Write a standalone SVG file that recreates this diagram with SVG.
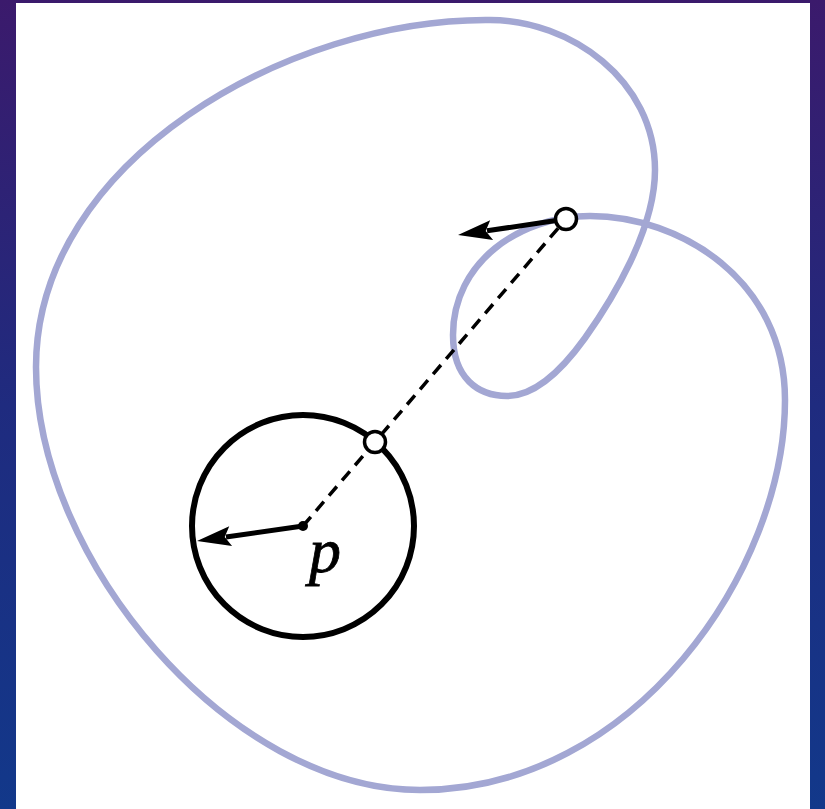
<svg xmlns="http://www.w3.org/2000/svg" width="825" height="809" viewBox="0 0 825 809">
  <defs>
    <linearGradient id="bg" x1="0" y1="0" x2="0" y2="1">
      <stop offset="0" stop-color="#3b1a6c"/>
      <stop offset="0.5" stop-color="#1f2b7f"/>
      <stop offset="1" stop-color="#12388a"/>
    </linearGradient>
    <path id="head" d="M0,0 L-34,-10 L-28,0 L-34,10 Z" fill="#000"/>
  </defs>
  <style>
    .curve { fill: none; stroke: #a3a7d3; stroke-width: 6.5; }
    .circle { fill: none; stroke: #000; stroke-width: 6; }
    .dash { fill: none; stroke: #000; stroke-width: 3.5; stroke-dasharray: 12 8; }
    .arr { fill: none; stroke: #000; stroke-width: 5; }
    .pt { fill: #fff; stroke: #000; stroke-width: 3.5; }
    .lbl { font-family: "Liberation Serif", "DejaVu Serif", serif; font-style: italic; font-size: 64px; fill: #000; stroke: #000; stroke-width: 0.8; }
  </style>
  <rect x="0" y="0" width="825" height="809" fill="url(#bg)"/>
  <rect x="16" y="3" width="794" height="806" fill="#fff"/>

  <g id="curve">
    <path class="curve" d="M490,20 C290,18 36,160 36,367 C36,560 230,790 420,790 C635,790 785,570 785,400 C785,280 680,216 590,216 C520,216 453,262 453,335 C453,378 478,396 507,396 C535,396 562,370 585,338 C612,300 655,230 655,170 C655,80 570,20 490,20 Z"/>
  </g>

  <g id="disk">
    <circle class="circle" cx="303" cy="526" r="111"/>
  </g>

  <g id="connectors">
    <line class="dash" x1="303" y1="526" x2="566" y2="219"/>
    <line class="arr" x1="303" y1="526" x2="226" y2="537"/>
    <use href="#head" transform="translate(197,541) rotate(171.9)"/>
    <line class="arr" x1="566" y1="219" x2="487" y2="230.8"/>
    <use href="#head" transform="translate(458,235) rotate(171.6)"/>
  </g>

  <g id="center">
    <circle cx="303" cy="526" r="5" fill="#000"/>
  </g>
  <g id="point-near">
    <circle class="pt" cx="375" cy="442" r="10.5"/>
  </g>
  <g id="point-far">
    <circle class="pt" cx="566" cy="219" r="10.5"/>
  </g>
  <g id="label">
    <text class="lbl" x="309" y="572">p</text>
  </g>
</svg>
